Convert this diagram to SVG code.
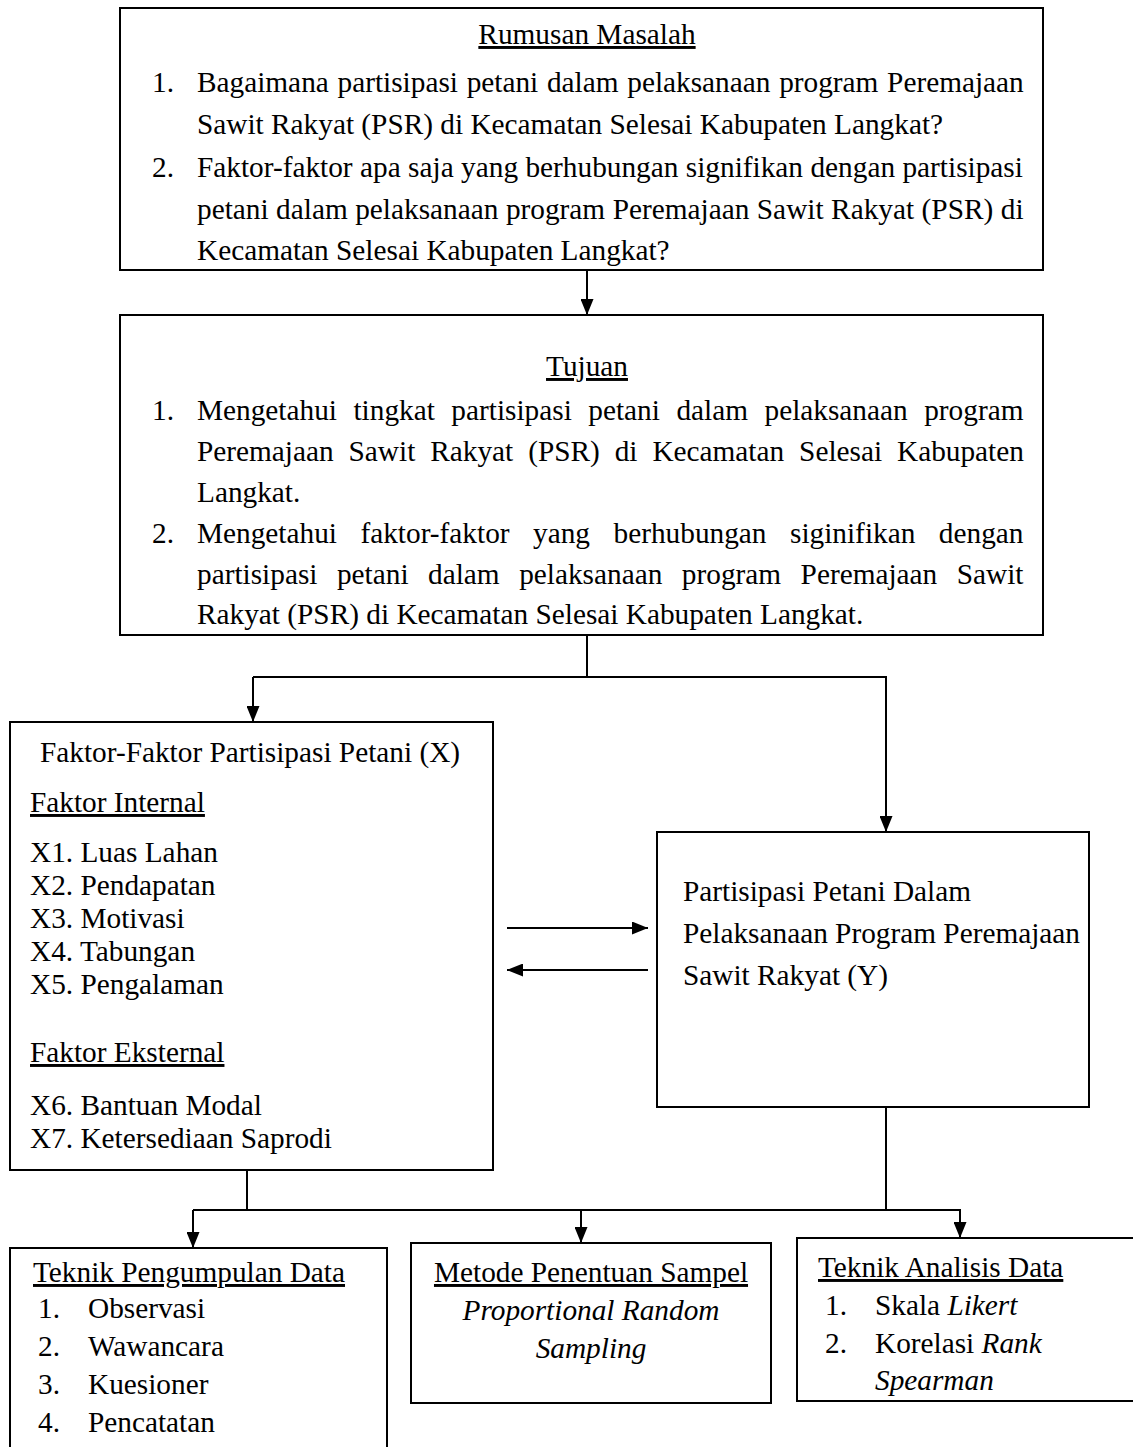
<svg xmlns="http://www.w3.org/2000/svg" width="1133" height="1447" viewBox="0 0 1133 1447">
<style>
text{font-family:"Liberation Serif","Times New Roman",serif;font-size:29.3px;fill:#000}
.u{text-decoration:underline}
.i{font-style:italic}
.box{fill:#fff;stroke:#000;stroke-width:2}
.con{fill:none;stroke:#000;stroke-width:2}
</style>
<defs>
<marker id="ah" viewBox="0 0 16 13" refX="16" refY="6.5" markerWidth="16" markerHeight="13" markerUnits="userSpaceOnUse" orient="auto">
<path d="M0,0 L16,6.5 L0,13 z" fill="#000"/>
</marker>
</defs>
<rect width="1133" height="1447" fill="#fff"/>

<g id="connectors">
<line class="con" x1="587" y1="270" x2="587" y2="315" marker-end="url(#ah)"/>
<polyline class="con" points="587,635 587,677"/>
<polyline class="con" points="253,677 886,677 886,832" marker-end="url(#ah)"/>
<line class="con" x1="253" y1="677" x2="253" y2="722" marker-end="url(#ah)"/>
<line class="con" x1="507" y1="928" x2="648" y2="928" marker-end="url(#ah)"/>
<line class="con" x1="648" y1="970" x2="507" y2="970" marker-end="url(#ah)"/>
<line class="con" x1="247" y1="1170" x2="247" y2="1210"/>
<line class="con" x1="886" y1="1107" x2="886" y2="1210"/>
<polyline class="con" points="193,1210 960,1210 960,1238" marker-end="url(#ah)"/>
<line class="con" x1="193" y1="1210" x2="193" y2="1248" marker-end="url(#ah)"/>
<line class="con" x1="581" y1="1210" x2="581" y2="1243" marker-end="url(#ah)"/>
</g>

<g id="rumusan">
<rect class="box" x="120" y="8" width="923" height="262"/>
<text x="587" y="44" text-anchor="middle" class="u">Rumusan Masalah</text>
<text x="152" y="92">1.</text>
<text x="197" y="92" word-spacing="1.4">Bagaimana partisipasi petani dalam pelaksanaan program Peremajaan</text>
<text x="197" y="134">Sawit Rakyat (PSR) di Kecamatan Selesai Kabupaten Langkat?</text>
<text x="152" y="176.5">2.</text>
<text x="197" y="176.5" word-spacing="0.1">Faktor-faktor apa saja yang berhubungan signifikan dengan partisipasi</text>
<text x="197" y="218.5" word-spacing="0.2">petani dalam pelaksanaan program Peremajaan Sawit Rakyat (PSR) di</text>
<text x="197" y="260">Kecamatan Selesai Kabupaten Langkat?</text>
</g>

<g id="tujuan">
<rect class="box" x="120" y="315" width="923" height="320"/>
<text x="587" y="376" text-anchor="middle" class="u">Tujuan</text>
<text x="152" y="420">1.</text>
<text x="197" y="420" word-spacing="9.2">Mengetahui tingkat partisipasi petani dalam pelaksanaan program</text>
<text x="197" y="461" word-spacing="7.6">Peremajaan Sawit Rakyat (PSR) di Kecamatan Selesai Kabupaten</text>
<text x="197" y="502">Langkat.</text>
<text x="152" y="543">2.</text>
<text x="197" y="543" word-spacing="16.2">Mengetahui faktor-faktor yang berhubungan siginifikan dengan</text>
<text x="197" y="584" word-spacing="12.2">partisipasi petani dalam pelaksanaan program Peremajaan Sawit</text>
<text x="197" y="624">Rakyat (PSR) di Kecamatan Selesai Kabupaten Langkat.</text>
</g>

<g id="faktor">
<rect class="box" x="10" y="722" width="483" height="448"/>
<text x="40" y="762">Faktor-Faktor Partisipasi Petani (X)</text>
<text x="30" y="812" class="u">Faktor Internal</text>
<text x="30" y="862">X1. Luas Lahan</text>
<text x="30" y="895">X2. Pendapatan</text>
<text x="30" y="928">X3. Motivasi</text>
<text x="30" y="961">X4. Tabungan</text>
<text x="30" y="994">X5. Pengalaman</text>
<text x="30" y="1062" class="u">Faktor Eksternal</text>
<text x="30" y="1115">X6. Bantuan Modal</text>
<text x="30" y="1148">X7. Ketersediaan Saprodi</text>
</g>

<g id="partisipasi">
<rect class="box" x="657" y="832" width="432" height="275"/>
<text x="683" y="901">Partisipasi Petani Dalam</text>
<text x="683" y="943">Pelaksanaan Program Peremajaan</text>
<text x="683" y="985">Sawit Rakyat (Y)</text>
</g>

<g id="pengumpulan">
<rect class="box" x="10" y="1248" width="377" height="220"/>
<text x="33" y="1282" class="u">Teknik Pengumpulan Data</text>
<text x="38" y="1318">1.</text><text x="88" y="1318">Observasi</text>
<text x="38" y="1356">2.</text><text x="88" y="1356">Wawancara</text>
<text x="38" y="1394">3.</text><text x="88" y="1394">Kuesioner</text>
<text x="38" y="1432">4.</text><text x="88" y="1432">Pencatatan</text>
</g>

<g id="sampel">
<rect class="box" x="411" y="1243" width="360" height="160"/>
<text x="591" y="1282" text-anchor="middle" class="u">Metode Penentuan Sampel</text>
<text x="591" y="1320" text-anchor="middle" class="i">Proportional Random</text>
<text x="591" y="1358" text-anchor="middle" class="i">Sampling</text>
</g>

<g id="analisis">
<rect class="box" x="797" y="1238" width="350" height="163"/>
<text x="818" y="1277" class="u">Teknik Analisis Data</text>
<text x="825" y="1315">1.</text><text x="875" y="1315">Skala <tspan class="i">Likert</tspan></text>
<text x="825" y="1353">2.</text><text x="875" y="1353">Korelasi <tspan class="i">Rank</tspan></text>
<text x="875" y="1390" class="i">Spearman</text>
</g>
</svg>
